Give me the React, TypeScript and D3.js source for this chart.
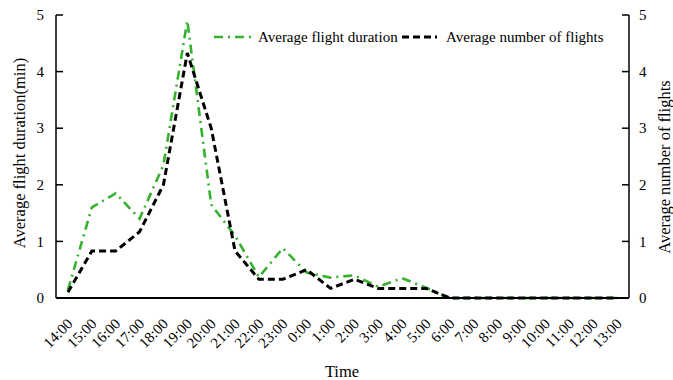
import React from "react";
import * as d3 from "d3";

const hours = ["14:00","15:00","16:00","17:00","18:00","19:00","20:00","21:00","22:00","23:00","0:00","1:00","2:00","3:00","4:00","5:00","6:00","7:00","8:00","9:00","10:00","11:00","12:00","13:00"];
const durationValues = [0.14,1.6,1.85,1.4,2.35,4.9,1.65,1.1,0.37,0.88,0.45,0.36,0.4,0.2,0.35,0.18,0,0,0,0,0,0,0,0];
const flightValues = [0.1,0.83,0.83,1.17,2,4.33,3,0.83,0.33,0.33,0.5,0.17,0.33,0.17,0.17,0.17,0,0,0,0,0,0,0,0];
const yTicks = [0,1,2,3,4,5];

const W = 673, H = 380;
const left = 56, right = 629, top = 15, bottom = 298;
const ff = { fontFamily: "Liberation Serif" };

export default function App() {
  const x = d3.scaleBand<string>().domain(hours).range([left, right]);
  const cx = (h: string) => (x(h) as number) + x.bandwidth() / 2;
  const yL = d3.scaleLinear().domain([0, 5]).range([bottom, top]);
  const yR = d3.scaleLinear().domain([0, 5]).range([bottom, top]);
  const lineL = d3.line<number>().x((_, i) => cx(hours[i])).y((d) => yL(d));
  const lineR = d3.line<number>().x((_, i) => cx(hours[i])).y((d) => yR(d));
  const green = "#36b12e";
  return (
    <svg width={W} height={H} style={{ position: "absolute", left: 0, top: 0, background: "#fff" }}>
      <path d={lineL(durationValues) || ""} fill="none" stroke={green} strokeWidth={2.6} strokeDasharray="9 5 2 5" />
      <path d={lineR(flightValues) || ""} fill="none" stroke="#000" strokeWidth={3} strokeDasharray="7 4" />
      <line x1={left} x2={left} y1={top} y2={bottom} stroke="#000" strokeWidth={1.5} />
      <line x1={right} x2={right} y1={top} y2={bottom} stroke="#000" strokeWidth={1.5} />
      <line x1={left} x2={right} y1={bottom} y2={bottom} stroke="#000" strokeWidth={2} />
      {yTicks.map((t) => (
        <g key={"l" + t}>
          <line x1={left} x2={left + 7} y1={yL(t)} y2={yL(t)} stroke="#000" strokeWidth={1.5} />
          <text x={left - 12} y={yL(t)} dy="0.35em" textAnchor="end" fontSize={15} style={ff}>{t}</text>
          <line x1={right - 7} x2={right} y1={yR(t)} y2={yR(t)} stroke="#000" strokeWidth={1.5} />
          <text x={right + 10} y={yR(t)} dy="0.35em" textAnchor="start" fontSize={15} style={ff}>{t}</text>
        </g>
      ))}
      {hours.map((h) => (
        <text key={h} transform={`translate(${cx(h) + 2},${321}) rotate(-45)`} textAnchor="end" fontSize={15} dy="0.35em" style={ff}>{h}</text>
      ))}
      <text x={342} y={377} textAnchor="middle" fontSize={16.5} style={ff}>Time</text>
      <text transform={`translate(25,153) rotate(-90)`} textAnchor="middle" fontSize={16.5} style={ff}>Average flight duration(min)</text>
      <text transform={`translate(670,167) rotate(-90)`} textAnchor="middle" fontSize={16.5} style={ff}>Average number of flights</text>
      <line x1={214} x2={253} y1={37} y2={37} stroke={green} strokeWidth={2.6} strokeDasharray="9 5 2 5" />
      <text x={258} y={37} dy="0.35em" fontSize={15} style={ff}>Average flight duration</text>
      <line x1={402} x2={437} y1={37} y2={37} stroke="#000" strokeWidth={3} strokeDasharray="7 4" />
      <text x={446} y={37} dy="0.35em" fontSize={15} style={ff}>Average number of flights</text>
    </svg>
  );
}
